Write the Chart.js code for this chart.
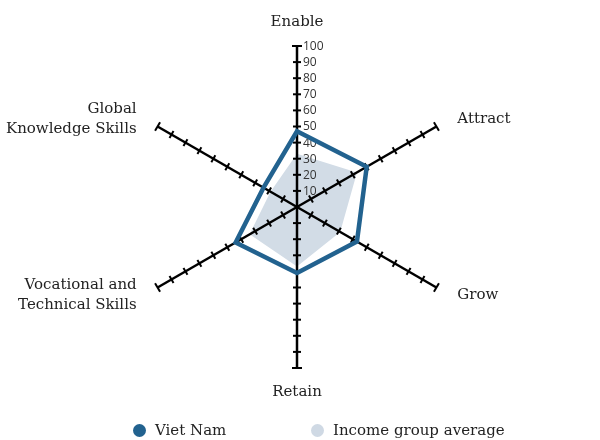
<!DOCTYPE html>
<html>
<head>
<meta charset="utf-8">
<script src="https://cdn.jsdelivr.net/npm/chart.js@4.4.1/dist/chart.umd.min.js"></script>
<style>
  body { margin: 0; background: #fff; }
  .wrap { position: relative; width: 600px; height: 440px; }
  .legend-item {
    position: absolute;
    top: 421px;
    display: flex;
    align-items: center;
    font-family: 'DejaVu Serif', serif;
    font-size: 15px;
    color: #222;
  }
  .legend-item .dot {
    display: inline-block;
    width: 13px;
    height: 13px;
    border-radius: 50%;
    margin-right: 9px;
  }
</style>
</head>
<body>
<div class="wrap">
  <canvas id="radarCanvas" width="600" height="440"></canvas>
  <div class="legend-item" style="left: 133px;"><span class="dot" style="background: #22628f;"></span>Viet Nam</div>
  <div class="legend-item" style="left: 311px;"><span class="dot" style="background: #cfd9e4;"></span>Income group average</div>
</div>
<script>
// categories (multi-line labels as arrays)
const pillars = [
  ['Enable'],
  ['Attract'],
  ['Grow'],
  ['Retain'],
  ['Vocational and', 'Technical Skills'],
  ['Global', 'Knowledge Skills'],
]
// series values
const vietNam = [47, 50, 43, 41, 44, 24]
const incomeAverage = [33, 43, 31, 37, 34, 19]
// tick labels along the Enable axis
const tickValues = [10, 20, 30, 40, 50, 60, 70, 80, 90, 100]

const serif = "'DejaVu Serif', serif"

// axes with cross ticks, drawn over the grey fill but under the Viet Nam line
const axisPlugin = {
  id: 'axisTicks',
  afterDatasetDraw: function (chart, args) {
    if (args.index !== 1) return
    const scale = chart.scales.r
    const ctx = chart.ctx
    ctx.save()
    ctx.strokeStyle = '#000'
    ctx.lineCap = 'butt'
    pillars.forEach(function (label, i) {
      const p0 = scale.getPointPositionForValue(i, 0)
      const p1 = scale.getPointPositionForValue(i, 100)
      ctx.lineWidth = 2.5
      ctx.beginPath()
      ctx.moveTo(p0.x, p0.y)
      ctx.lineTo(p1.x, p1.y)
      ctx.stroke()
      const len = Math.hypot(p1.x - p0.x, p1.y - p0.y)
      const nx = -(p1.y - p0.y) / len
      const ny = (p1.x - p0.x) / len
      ctx.lineWidth = 2
      tickValues.forEach(function (v) {
        const p = scale.getPointPositionForValue(i, v)
        const h = v === 100 ? 5 : 4
        ctx.beginPath()
        ctx.moveTo(p.x - nx * h, p.y - ny * h)
        ctx.lineTo(p.x + nx * h, p.y + ny * h)
        ctx.stroke()
      })
    })
    ctx.fillStyle = '#333'
    ctx.font = "12px 'Open Sans', sans-serif"
    ctx.textAlign = 'left'
    ctx.textBaseline = 'middle'
    tickValues.forEach(function (v) {
      const p = scale.getPointPositionForValue(0, v)
      ctx.fillText(String(v), p.x + 6, p.y + 0.5)
    })
    ctx.restore()
  },
  afterDraw: function (chart) {
    const scale = chart.scales.r
    const ctx = chart.ctx
    const lineHeight = 20
    ctx.save()
    ctx.fillStyle = '#222'
    ctx.font = '15px ' + serif
    ctx.textBaseline = 'middle'
    chart.data.labels.forEach(function (lines, i) {
      const pos = scale.getPointPositionForValue(i, 115)
      const dx = pos.x - scale.xCenter
      let y = pos.y
      if (Math.abs(dx) < 1) {
        ctx.textAlign = 'center'
      } else {
        ctx.textAlign = dx > 0 ? 'left' : 'right'
        y = pos.y + (scale.yCenter - pos.y) * 0.05
      }
      const top = y - ((lines.length - 1) * lineHeight) / 2
      lines.forEach(function (line, k) {
        ctx.fillText(line, pos.x, top + k * lineHeight)
      })
    })
    ctx.restore()
  },
}

const ctx = document.getElementById('radarCanvas').getContext('2d')
window.myRadar = new Chart(ctx, {
  type: 'radar',
  data: {
    labels: pillars,
    datasets: [
      {
        label: 'Viet Nam',
        data: vietNam,
        borderColor: '#22628f',
        backgroundColor: '#22628f',
        borderWidth: 4.5,
        fill: false,
        pointRadius: 0,
      },
      {
        label: 'Income group average',
        data: incomeAverage,
        borderColor: '#d2dce6',
        backgroundColor: '#d2dce6',
        borderWidth: 0,
        fill: true,
        pointRadius: 0,
      },
    ],
  },
  options: {
    responsive: false,
    animation: false,
    layout: {
      padding: { left: 136, right: 142, top: 46, bottom: 72 },
    },
    elements: {
      line: { tension: 0, borderJoinStyle: 'miter' },
    },
    scales: {
      r: {
        min: 0,
        max: 100,
        ticks: { display: false, stepSize: 10 },
        grid: { display: false },
        angleLines: { display: false },
        pointLabels: { display: false },
      },
    },
    plugins: {
      legend: { display: false },
      tooltip: { enabled: false },
    },
  },
  plugins: [axisPlugin],
})
</script>
</body>
</html>
